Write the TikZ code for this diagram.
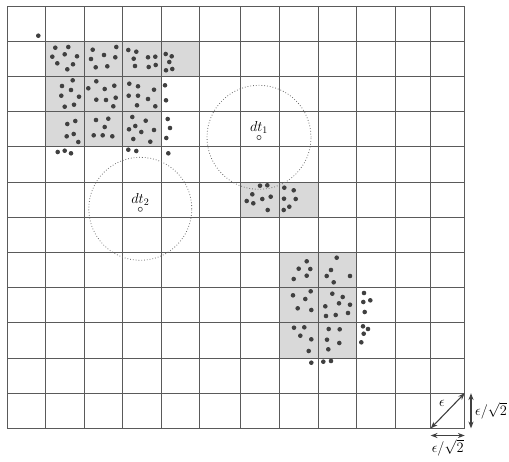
\documentclass[tikz,border=0pt]{standalone}
\usepackage{amsmath}
\usepackage{amssymb}
\usepackage{tikz}
\usetikzlibrary{arrows.meta,positioning,calc}
\definecolor{gridGray}{RGB}{90,90,90}
\definecolor{cellGray}{RGB}{217,217,217}
\definecolor{dotGray}{RGB}{64,64,64}
\definecolor{rangeGray}{RGB}{110,110,110}
\tikzset{
  grid line/.style={draw=gridGray,line width=1pt},
  core cell/.style={fill=cellGray},
  range circle/.style={circle,draw=rangeGray,dotted,line width=0.8pt,inner sep=0pt,minimum size=104pt},
  center mark/.style={circle,draw=dotGray,fill=white,line width=0.6pt,inner sep=0pt,minimum size=4.2pt},
  center label/.style={font=\fontsize{14}{16}\selectfont,inner sep=1pt},
  measure label/.style={font=\fontsize{15}{17}\selectfont,inner sep=1pt},
  measure arrow/.style={{Stealth[length=2.4mm]}-{Stealth[length=2.4mm]},line width=1.1pt,draw=dotGray}
}
\newcommand{\datapoint}[2]{\fill[dotGray] (#1,#2) circle[radius=2.3pt];}

\begin{document}
\begin{tikzpicture}[x=1pt,y=-1pt]
      \useasboundingbox (0,0) rectangle (509,461);
      % dense cells
      \fill[core cell] (45.7,41.2) rectangle (199.5,76.4);
      \fill[core cell] (45.7,76.4) rectangle (161.3,146.8);
      \fill[core cell] (240,182) rectangle (318.2,217.2);
      \fill[core cell] (279.5,252.4) rectangle (356.7,358);
      % grid
      \foreach \x in {7,45.7,84.3,122.7,161.3,199.5,240,279.5,318.2,356.7,395.3,430.7,464.7}
        \draw[grid line] (\x,6) -- (\x,428.4);
      \foreach \k in {0,...,12}
        \draw[grid line] (7,{6+35.2*\k}) -- (464.7,{6+35.2*\k});
      % points, top left
      \foreach \x/\y in {38.3/35.7,
        55.3/47.7,68.3/47,52.3/56.7,64.7/54.3,77/56.3,57.3/63.3,73/64.3,67.3/69.3,
        92.7/49.7,116.3/47,104/55,91/59,115.3/57.3,95.7/67.3,107.3/66.3,
        128.3/50,136.3/51.7,133.7/58.7,148/57.3,155.3/56.7,135/66,148.7/67,155.7/65,
        165.7/54,171.7/56.3,169.3/62,166/70.3,172.3/69,
        72.7/80.3,62/86,71/90,61.3/95.7,79/96.7,64.7/106.7,74/104.7,
        96.3/81.3,88.3/88.3,104.7/89,114.3/85.7,96.3/99.7,106/100,115.7/97.7,113.3/106.3,
        129.3/83.7,138/86.3,154/89.7,128.7/95.7,138/95.7,148/99,137/105.3,155.3/106.3,
        165/85.3,166/100.3,
        75.3/121,67.3/124,66.7/136.3,73.7/134,78.3/142,
        96/120,108.3/118.7,104.7/127,93.7/135.3,102.7/135.3,112.3/136.3,
        132.3/117,145.7/120.7,135.3/126,129/129.3,141.3/132,154/130,133.3/139,150.3/141.7,
        167.7/119,170/128,166.3/138,
        57.7/152,64.7/150.7,71/153.3,128.3/149.7,136.3/151,168.3/153.3}
        {\datapoint{\x}{\y}}
      % points, middle
      \foreach \x/\y in {260/185.7,267.3/185.3,252.3/194.3,246.7/201,253.3/203.3,262.3/199,
        270.7/196.7,267.7/210,284.3/187.7,293.7/190.3,284/198.7,295.7/199,289.3/206.7,283.7/210}
        {\datapoint{\x}{\y}}
      % points, bottom right
      \foreach \x/\y in {306.7/261.3,298.7/268.7,310.3/269,293.7/279,306.7/275.7,
        336.7/257.7,331/270,326.7/276,350/276,333.7/282.3,
        310.7/291.3,293/295.3,305.3/299,297.7/308.3,311.3/310,
        332.3/293.7,342.7/297,339/303.3,350/304.7,325.3/306.3,335.7/315,348/313,326/316,
        364/293,363.3/302,370.3/300.3,364.7/312,
        294/327.7,304.3/327.3,300.3/335.7,311.3/339.3,308.7/351,
        328.7/329,339.7/329.3,327/339.7,339.3/343,328.3/349.3,
        363/326.3,368/329,363.7/333.7,361.3/342.3,
        311.3/362.7,323.3/361.7,331/361}
        {\datapoint{\x}{\y}}
      % query points
      \node[range circle] (dt1 range) at (259,137.3) {};
      \node[range circle,minimum size=103pt] (dt2 range) at (140.3,208.8) {};
      \node[center mark] (dt1) at (259,137.5) {};
      \node[center label,above=0pt of dt1] (dt1 label) {$dt_1$};
      \node[center mark] (dt2) at (140.3,209.3) {};
      \node[center label,above=0pt of dt2] (dt2 label) {$dt_2$};
      % cell size
      \coordinate (cell bl) at (430.7,428.4);
      \coordinate (cell tr) at (464.7,393.2);
      \coordinate (side top) at (471,393.2);
      \coordinate (side bot) at (471,428.4);
      \coordinate (base left) at (430.7,435.5);
      \coordinate (base right) at (464.7,435.5);
      \draw[measure arrow] (cell bl) -- (cell tr);
      \draw[measure arrow] (side top) -- (side bot);
      \draw[measure arrow] (base left) -- (base right);
      \node[measure label] (diag label) at (442,403) {$\epsilon$};
      \node[measure label,anchor=west] (side label) at (474,410.5) {$\epsilon/\sqrt{2}$};
      \node[measure label,below=3pt of base left,xshift=17pt] (base label) {$\epsilon/\sqrt{2}$};
    \end{tikzpicture}
\end{document}
